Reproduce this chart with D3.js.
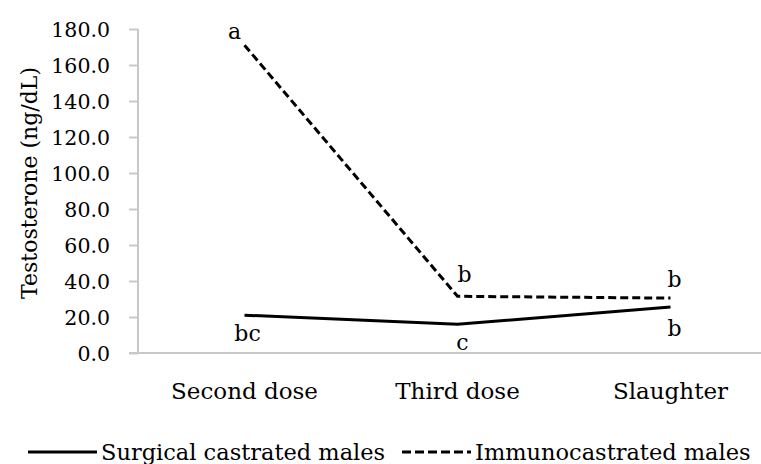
<!DOCTYPE html>
<html>
<head>
<meta charset="utf-8">
<script src="https://cdn.jsdelivr.net/npm/d3@7"></script>
<style>
  body { margin: 0; background: #fff; }
  svg text { font-family: "DejaVu Serif", serif; fill: #000; }
</style>
</head>
<body>
<div id="chart"></div>
<script>
// data
const categories = ["Second dose", "Third dose", "Slaughter"];
const surgicalValues = [21.0, 16.0, 25.5];
const immunoValues = [171.0, 31.5, 30.5];
const surgicalLetters = ["bc", "c", "b"];
const immunoLetters = ["a", "b", "b"];
const yTicks = [0, 20, 40, 60, 80, 100, 120, 140, 160, 180];

const width = 761, height = 464;
const margin = { top: 29, right: -16, bottom: 111, left: 138 };

const svg = d3.select("#chart")
    .append("svg")
    .attr("width", width)
    .attr("height", height);

const x = d3.scaleBand()
    .domain(categories)
    .range([margin.left, width - margin.right]);

const y = d3.scaleLinear()
    .domain([0, 180])
    .range([height - margin.bottom, margin.top]);

const cx = d => x(d) + x.bandwidth() / 2;

// y axis
const yAxis = svg.append("g")
    .attr("transform", `translate(${margin.left},0)`)
    .call(d3.axisLeft(y).tickValues(yTicks).tickFormat(d3.format(".1f")).tickSize(9).tickPadding(19));
yAxis.selectAll("line, path").attr("stroke", "#c8c8c8").attr("stroke-width", 2);
yAxis.select("path").attr("d", `M0,${y(0)}V${y(180)}`);
yAxis.selectAll("text").style("font-size", "20.5px").attr("dy", "0.36em");

// x axis
const xAxis = svg.append("g")
    .attr("transform", `translate(0,${y(0)})`)
    .call(d3.axisBottom(x).tickSize(0).tickPadding(30));
xAxis.select("path").attr("stroke", "#c8c8c8").attr("stroke-width", 2)
    .attr("d", `M${margin.left - 9},0H${width - margin.right}`);
xAxis.selectAll("text").style("font-size", "23px");

// y label
svg.append("text")
    .attr("transform", `translate(29,${(y(0) + y(180)) / 2 - 8}) rotate(-90)`)
    .attr("text-anchor", "middle")
    .attr("dy", "0.35em")
    .style("font-size", "22px")
    .text("Testosterone (ng/dL)");

const line = d3.line()
    .x(d => cx(d.cat))
    .y(d => y(d.v));

const surgical = categories.map((c, i) => ({ cat: c, v: surgicalValues[i], lab: surgicalLetters[i] }));
const immuno = categories.map((c, i) => ({ cat: c, v: immunoValues[i], lab: immunoLetters[i] }));

svg.append("path")
    .datum(surgical)
    .attr("d", line)
    .attr("fill", "none")
    .attr("stroke", "#000")
    .attr("stroke-width", 3);

svg.append("path")
    .datum(immuno)
    .attr("d", line)
    .attr("fill", "none")
    .attr("stroke", "#000")
    .attr("stroke-width", 3)
    .attr("stroke-dasharray", "8,4");

// letter labels
const immunoOffsets = [[-10, -14], [7, -22], [4, -19]];
const surgicalOffsets = [[3, 18], [5, 18], [4, 21]];

svg.selectAll(".lab-i")
    .data(immuno)
    .join("text")
    .attr("class", "lab-i")
    .attr("x", (d, i) => cx(d.cat) + immunoOffsets[i][0])
    .attr("y", (d, i) => y(d.v) + immunoOffsets[i][1])
    .attr("text-anchor", "middle")
    .attr("dy", "0.35em")
    .style("font-size", "22px")
    .text(d => d.lab);

svg.selectAll(".lab-s")
    .data(surgical)
    .join("text")
    .attr("class", "lab-s")
    .attr("x", (d, i) => cx(d.cat) + surgicalOffsets[i][0])
    .attr("y", (d, i) => y(d.v) + surgicalOffsets[i][1])
    .attr("text-anchor", "middle")
    .attr("dy", "0.35em")
    .style("font-size", "22px")
    .text(d => d.lab);

// legend
const legend = svg.append("g").attr("transform", "translate(0,452)");
const legendItems = [
    { name: "Surgical castrated males", dash: null, x: 28 },
    { name: "Immunocastrated males", dash: "9,4", x: 402 }
];
legendItems.forEach(d => {
    legend.append("line")
        .attr("x1", d.x).attr("x2", d.x + 69)
        .attr("y1", 0).attr("y2", 0)
        .attr("stroke", "#000")
        .attr("stroke-width", 3)
        .attr("stroke-dasharray", d.dash);
    legend.append("text")
        .attr("x", d.x + 73)
        .attr("y", 0)
        .attr("dy", "0.35em")
        .style("font-size", "22.5px")
        .text(d.name);
});
</script>
</body>
</html>
